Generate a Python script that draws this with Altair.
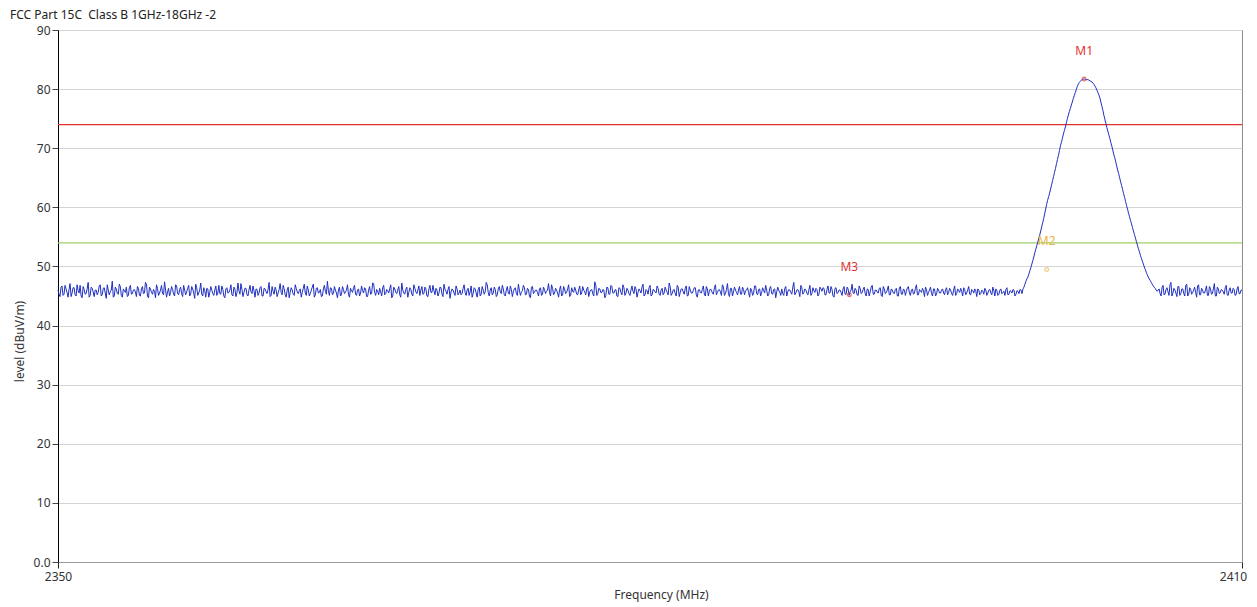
import altair as alt
import numpy as np
import pandas as pd

TITLE = "FCC Part 15C\u00a0 Class B 1GHz-18GHz -2"

# ---- trace data (dBuV/m) ----
# left flat part, first pass of sweep points
base_left = [
    46.0,44.9,46.7,45.3,46.2,44.8,47.1,45.5,46.4,45.0,45.9,46.8,44.7,46.1,45.4,47.3,45.1,46.3,44.9,46.0,
    45.6,46.9,45.2,46.4,44.6,46.0,45.7,47.5,45.0,46.2,45.3,46.6,44.8,45.9,46.5,45.1,46.8,45.4,46.1,44.9,
    46.3,45.0,46.6,45.5,47.0,44.7,46.2,45.3,45.8,46.9,45.1,46.0,45.4,47.4,44.8,46.3,45.6,46.1,45.0,46.7,
    45.2,46.5,44.9,46.0,45.7,46.8,45.3,46.2,44.6,46.4,45.5,47.2,45.0,45.9,46.3,44.8,46.6,45.4,46.0,45.1,
    46.8,45.3,46.1,44.7,46.4,45.6,46.9,45.0,46.2,45.5,45.9,47.1,44.9,46.3,45.2,46.0,45.7,46.7,44.8,46.1,
    45.5,46.6,45.0,46.2,45.4,47.3,45.1,45.8,46.5,44.9,46.1,45.6,46.8,45.2,46.0,44.7,46.4,45.3,46.9,45.7,
    45.9,44.8,46.3,45.5,46.7,45.0,46.0,47.0,45.2,46.4,45.6,44.9,46.2,45.8,47.5,45.1,46.3,45.4,46.0,44.7,
    46.5,45.2,46.1,45.7,46.9,44.8,45.9,46.4,45.3,46.0,45.0,46.7,45.5,46.2,44.9,46.6,45.4,47.1,45.1,45.8,
    46.3,45.0,46.8,45.4,45.9,46.2,44.7,46.5,45.6,46.0,45.2,47.2,45.5,46.1,44.8,46.4,45.3,46.9,45.7,46.0,
    45.1,46.6,45.4,46.2,44.9,46.8,45.6,45.9,46.3,45.0,46.5,45.3,47.0,45.8,46.1,44.6,46.2,45.5,46.7,45.2,
    46.0,45.4,46.9,45.1,46.3,45.7,44.8,46.4,45.5,46.1,45.0,46.6,45.3,47.3,45.6,46.0,45.2,46.5,44.9,46.2,
    45.7,46.8,45.2,46.0,45.5,46.7,44.9,46.2,45.4,47.0,45.1,45.9,46.4,45.3,46.1,44.7,46.6,45.6,46.0,45.0,
    46.4,45.3,46.1,45.8,47.1,45.0,46.3,45.5,46.0,44.8,46.7,45.2,46.2,45.6,46.9,45.1,45.8,46.5,45.3,46.0,
    45.2,46.6,45.7,46.2,44.9,46.0,45.4,47.4,45.1,46.3,45.6,46.1,44.7,46.5,45.3,46.8,45.5,46.0,45.0,46.4,
    45.6,46.9,45.1,46.3,45.4,46.0,45.8,46.6,44.8,46.2,45.5,47.0,45.2,45.9,46.4,45.0,46.1,45.7,46.7,45.3,
    46.0,45.2,46.5,45.6,47.2,45.1,46.0,45.4,46.8,44.9,46.2,45.7,46.3,45.0,46.6,45.5,45.9,46.4,44.8,46.1,
    45.5,46.7,45.0,46.2,45.8,46.0,45.3,46.9,45.6,46.1,45.1,46.5,45.4,47.1,44.9,46.3,45.7,46.0,45.2,46.6,
    45.3,46.1,45.9,46.4,44.8,46.0,45.5,46.7,45.2,46.2,45.6,45.9,46.8,45.0,46.3,45.4,46.1,44.7,46.5,45.6,
    46.2,45.1,46.6,45.7,46.0,45.3,47.3,45.5,46.1,44.9,46.4,45.6,46.0,45.2,46.8,45.4,45.9,46.3,45.0,46.5,
    45.8,46.3,45.2,46.7,45.5,46.1,44.8,46.4,45.6,46.0,45.1,46.6,45.3,46.2,45.7,47.0,45.4,46.0,45.1,46.3,
    45.6,46.5,45.0,46.1,45.7,46.8,45.3,46.0,45.5,46.4,44.9,46.2,45.6,46.7,45.2,46.0,45.4,46.3,45.0,46.6,
    45.3,46.0,45.8,46.6,45.1,46.2,45.5,46.9,45.2,45.9,46.3,44.9,46.1,45.6,46.5,45.0,46.2,45.3,46.0,45.5,
    46.2,45.2,46.4,45.6,46.0,45.1,46.7,45.4,45.9,46.3,45.0,46.1,45.5,46.6,45.2,45.9,46.2,44.9,46.0,45.4,
    45.8,46.3,45.1,46.0,45.5,46.5,45.0,45.9,45.3,46.2,45.6,45.1,46.4,45.3,45.8,46.1,45.0,45.9,45.4,46.0,
]
# left flat part, second pass (half a step later)
base_left_b = [
    45.3,46.5,45.1,46.8,45.6,46.1,44.9,46.4,45.2,46.9,45.5,45.0,46.6,45.3,46.2,44.8,46.5,45.7,46.0,45.2,
    46.7,45.0,46.3,45.5,46.9,45.2,46.0,44.8,46.5,45.4,47.0,45.1,46.2,45.6,44.9,46.4,45.3,46.0,45.7,46.6,
    45.1,46.2,45.4,47.3,45.0,46.5,45.6,46.1,44.7,46.3,45.5,46.8,45.2,46.0,45.7,45.0,46.6,45.3,46.9,45.4,
    46.1,45.4,46.8,45.2,46.3,45.0,46.6,45.5,47.0,45.1,46.0,45.3,46.4,44.8,46.2,45.6,46.0,45.1,46.7,45.5,
    45.4,46.7,45.0,46.2,45.5,46.0,45.2,46.5,44.9,47.2,45.3,46.1,45.6,46.3,45.0,46.8,45.4,45.9,46.2,45.1,
    46.4,45.0,46.3,45.7,46.1,44.9,46.6,45.3,46.0,45.5,47.1,45.2,46.2,44.8,46.5,45.6,46.0,45.1,46.3,45.4,
    46.2,45.6,47.0,45.1,46.0,45.4,46.5,44.8,46.3,45.5,46.1,45.0,46.8,45.3,45.9,46.4,45.2,46.6,45.5,46.0,
    45.0,46.6,45.4,46.0,45.2,46.3,45.6,46.8,45.1,46.2,45.5,45.9,46.4,44.9,46.0,45.3,47.2,45.6,46.1,45.2,
    45.7,46.4,45.2,46.1,45.5,46.9,45.0,46.2,45.4,46.6,44.8,46.0,45.3,46.5,45.6,46.1,45.0,46.3,45.4,46.7,
    46.0,45.3,46.5,45.0,46.2,45.6,46.8,45.2,46.0,45.5,46.4,44.9,46.1,45.3,46.6,45.7,46.0,45.1,46.2,45.5,
    45.2,46.3,45.6,46.0,45.1,46.7,45.4,46.2,44.8,46.5,45.3,46.0,45.7,46.9,45.0,46.4,45.5,46.1,45.2,46.6,
    45.4,46.2,45.0,46.6,45.3,46.1,45.7,46.4,45.1,46.0,45.6,46.8,45.2,46.3,45.0,46.5,45.4,46.0,45.6,46.2,
    45.1,46.5,45.4,46.0,45.6,46.9,45.2,46.3,45.5,46.1,45.0,46.6,45.4,46.2,44.9,46.4,45.6,46.0,45.2,46.7,
    45.5,46.0,45.2,46.5,45.7,46.1,45.0,46.8,45.4,46.2,45.6,46.0,45.1,46.4,45.3,46.6,45.5,46.1,44.9,46.3,
    45.2,46.4,45.5,46.0,45.1,46.7,45.4,46.2,45.6,45.9,46.5,45.0,46.1,45.3,46.8,45.2,46.0,45.5,46.3,45.1,
    46.3,45.5,46.0,45.2,46.6,45.4,46.1,45.0,46.5,45.6,46.2,45.3,46.7,45.1,46.0,45.5,46.4,45.2,46.0,45.6,
    46.1,45.3,46.6,45.0,46.2,45.5,46.4,45.2,46.0,45.7,46.9,45.1,46.1,45.4,46.3,45.0,46.5,45.6,46.0,45.3,
    46.5,45.2,46.0,45.6,46.3,45.1,46.7,45.4,46.1,45.0,46.4,45.5,46.0,45.2,46.6,45.3,46.2,45.7,46.0,45.1,
    45.4,46.3,45.0,46.1,45.6,46.5,45.2,46.0,45.7,46.8,45.3,46.2,45.5,46.0,45.1,46.4,45.6,46.1,45.3,46.2,
    46.4,45.2,46.1,45.5,46.6,45.0,46.3,45.4,46.0,45.6,46.2,45.3,46.5,45.1,46.0,45.5,46.3,45.2,46.7,45.4,
    46.1,45.4,46.2,45.0,46.5,45.3,46.0,45.6,46.3,45.1,46.6,45.4,46.0,45.2,46.2,45.5,46.1,45.0,46.4,45.3,
    46.2,45.1,46.4,45.5,46.0,45.3,46.3,45.2,46.1,45.6,45.9,46.5,45.1,46.0,45.4,46.2,45.0,46.3,45.5,46.0,
    45.5,46.1,45.2,46.3,45.4,46.0,45.1,46.2,45.6,45.8,46.4,45.2,46.0,45.3,46.1,45.5,45.9,46.2,45.2,46.0,
    45.3,46.0,45.5,46.1,45.2,45.9,46.2,45.1,46.0,45.4,45.8,46.1,45.2,45.9,45.5,46.0,45.3,45.8,46.1,45.4,
]
# the emission (rise, top, fall), two passes
peak_vals = [
    46.2,47.0,47.9,48.7,49.8,51.0,52.3,53.5,54.7,56.0,57.4,58.9,60.5,61.8,63.1,64.5,65.9,67.4,68.8,70.4,
    71.7,73.0,74.3,75.6,76.7,77.8,78.9,79.9,80.8,81.3,81.6,81.7,81.6,81.6,81.4,81.2,80.8,80.2,79.4,78.5,
    77.1,75.6,74.2,72.9,71.7,70.4,69.0,67.7,66.3,65.0,63.7,62.3,61.0,59.7,58.4,57.2,56.0,54.8,53.6,52.5,
    51.4,50.4,49.5,48.6,47.9,47.3,46.7,46.3,45.8,
]
peak_vals_b = [
    46.5,47.5,48.2,49.3,50.4,51.6,52.9,54.1,55.3,56.7,58.1,59.7,61.2,62.4,63.8,65.2,66.6,68.1,69.6,71.0,
    72.4,73.6,75.0,76.2,77.3,78.4,79.4,80.4,81.1,81.5,81.7,81.7,81.6,81.5,81.3,81.0,80.5,79.8,79.0,77.8,
    76.4,74.9,73.5,72.3,71.0,69.7,68.4,67.0,65.7,64.3,63.0,61.7,60.3,59.0,57.8,56.6,55.4,54.2,53.0,51.9,
    50.9,49.9,49.0,48.2,47.6,47.0,46.5,46.0,
]
# right flat part, two passes
base_right = [
    46.2,45.0,46.8,45.3,46.4,45.1,47.3,45.5,46.0,44.9,46.6,45.4,46.2,45.0,47.0,45.3,46.1,45.6,46.5,44.8,
    46.9,45.2,46.0,45.5,46.7,45.1,46.3,45.4,47.1,45.0,46.2,45.6,46.0,45.3,46.8,45.1,46.4,45.5,46.1,45.2,
    46.6,45.4,46.0,
]
base_right_b = [
    45.4,46.5,45.2,46.1,45.7,46.9,45.0,46.3,45.5,46.6,45.1,46.2,45.4,46.8,45.0,46.4,45.3,46.0,45.6,46.7,
    45.2,46.3,45.5,46.0,45.1,46.6,45.3,46.2,45.0,46.5,45.4,46.1,45.7,46.4,45.2,46.0,45.5,46.3,45.1,46.2,
    45.4,46.0,
]
# sweep segments (MHz)
left_span = (2350.0, 2398.8)
peak_span = (2398.9, 2405.7)
right_span = (2405.8, 2410.0)

# limit lines
limit_names = ["Limit PK", "Limit AV"]
limit_levels = [74.0, 54.0]
limit_colors = ["#e0302c", "#9dd06a"]

# markers
marker_names = ["M1", "M2", "M3"]
marker_freqs = [2402.0, 2400.1, 2390.1]
marker_levels = [81.7, 49.5, 45.2]
marker_colors = ["#e03434", "#e9b544", "#e03434"]


def segment(span, vals_a, vals_b):
    fa = np.linspace(span[0], span[1], len(vals_a))
    half = (fa[1] - fa[0]) / 2.0
    fb = fa[: len(vals_b)] + half
    return np.concatenate([fa, fb]), list(vals_a) + list(vals_b)


parts = [
    segment(left_span, base_left, base_left_b),
    segment(peak_span, peak_vals, peak_vals_b),
    segment(right_span, base_right, base_right_b),
]
freqs = np.concatenate([p[0] for p in parts])
levels = sum((p[1] for p in parts), [])
trace = pd.DataFrame({"f": freqs, "level": levels}).sort_values("f").reset_index(drop=True)
trace["order"] = np.arange(len(trace))

limits = pd.DataFrame({"name": limit_names, "level": limit_levels})
markers = pd.DataFrame({"name": marker_names, "f": marker_freqs, "level": marker_levels})
title_df = pd.DataFrame({"t": [TITLE]})

FONT = "Noto Sans"

x_enc = alt.X(
    "f:Q",
    scale=alt.Scale(domain=[2350, 2410], nice=False, zero=False),
    axis=alt.Axis(
        values=[2350, 2410], grid=False, title="Frequency (MHz)", labelFlush=False,
        labelOffset={"condition": {"test": "datum.value == 2410", "value": -9}, "value": 0},
        domainColor="#9a9a9a", tickColor="#222222", tickSize=6, labelPadding=3,
        titlePadding=7, titleX=603, titleFontWeight="normal", format="d",
    ),
)
y_enc = alt.Y(
    "level:Q",
    scale=alt.Scale(domain=[0, 90], nice=False, zero=True),
    axis=alt.Axis(
        values=list(range(0, 91, 10)), grid=True, gridColor="#d4d4d4", labelFlush=False,
        domainColor="#000000", tickColor="#444444", tickSize=6, labelPadding=2,
        labelExpr="datum.value == 0 ? '0.0' : datum.label",
        title="level (dBuV/m)", titleFontWeight="normal", titlePadding=7,
        titleY=311,
    ),
)

line = alt.Chart(trace).mark_line(color="#1f2fc0", strokeWidth=1).encode(
    x=x_enc, y=y_enc, order="order:Q"
)

limit_rules = alt.Chart(limits).mark_rule(strokeWidth=1.2).encode(
    y=alt.Y("level:Q"),
    color=alt.Color("name:N", scale=alt.Scale(domain=limit_names, range=limit_colors), legend=None),
)

pts = alt.Chart(markers).mark_point(filled=False, size=14, strokeWidth=1.2).encode(
    x="f:Q", y="level:Q",
    color=alt.Color("name:N", scale=alt.Scale(domain=marker_names, range=marker_colors), legend=None),
)
labels = alt.Chart(markers).mark_text(dy=-28, fontSize=12, font=FONT).encode(
    x="f:Q", y="level:Q", text="name:N",
    color=alt.Color("name:N", scale=alt.Scale(domain=marker_names, range=marker_colors), legend=None),
)

title_text = alt.Chart(title_df).mark_text(
    align="left", baseline="middle", fontSize=12, font=FONT, color="#222222"
).encode(text="t:N", x=alt.value(-48), y=alt.value(-15))

chart = (
    alt.layer(limit_rules, line, pts, labels, title_text)
    .resolve_scale(color="independent")
    .properties(
        width=1184, height=532,
        autosize=alt.AutoSizeParams(type="none"),
        padding={"left": 50, "top": 22, "right": 7, "bottom": 45},
    )
    .configure_view(stroke="#8c8c8c", strokeWidth=1)
    .configure_axis(
        labelFont=FONT, titleFont=FONT, labelFontSize=12, titleFontSize=12,
        labelColor="#333333", titleColor="#333333",
    )
)

chart.save("out.html", embed_options={"renderer": "svg", "actions": False})
